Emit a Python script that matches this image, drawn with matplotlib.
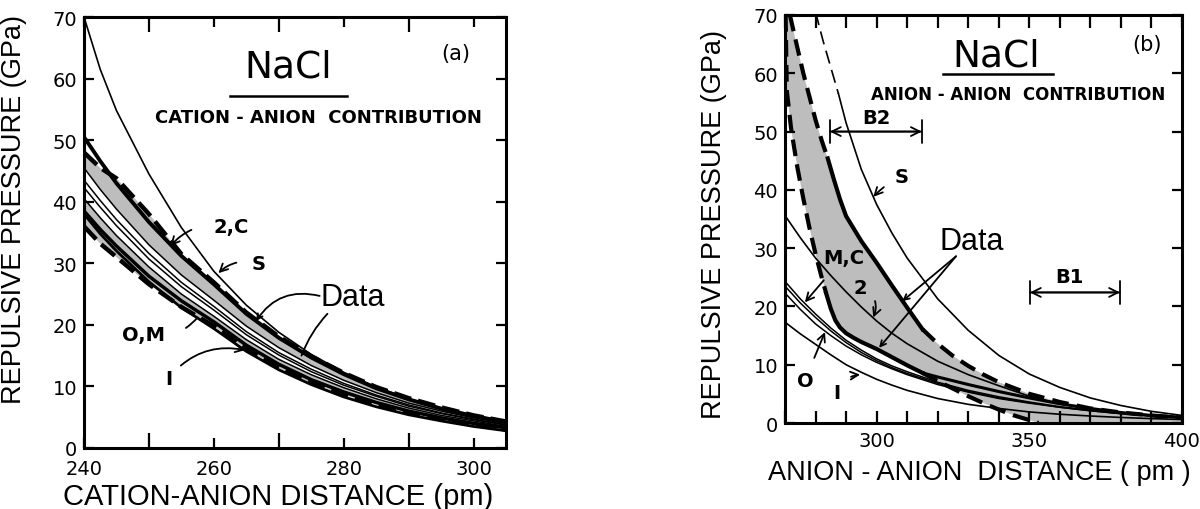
import matplotlib
matplotlib.use("Agg")
import matplotlib.pyplot as plt

# ---- panel (a): cation-anion contribution ----
xa = [240, 242.5, 245, 250, 255, 260, 265, 270, 275, 280, 285, 290, 295, 300, 305]
a_S = [70, 61.5, 54.8, 44.5, 35.8, 28.7, 23.2, 18.8, 15.2, 12.3, 9.9, 8.0, 6.5, 5.3, 4.3]
a_2C = [50.5, 46.6, 43.0, 36.7, 31.2, 26.6, 21.8, 17.9, 14.7, 12.0, 9.7, 7.9, 6.4, 5.2, 4.2]
a_data_top = [48.0, 45.5, 43.8, 38.0, 31.5, 26.9, 22.0, 18.1, 14.9, 12.2, 9.9, 8.1, 6.6, 5.3, 4.3]
a_data_top_lo = [45.5, 42.0, 38.8, 33.0, 28.1, 24.0, 19.8, 16.3, 13.4, 11.0, 9.0, 7.3, 6.0, 4.9, 4.0]
a_mid1 = [43.5, 40.2, 37.1, 31.6, 26.9, 23.0, 18.9, 15.5, 12.8, 10.5, 8.6, 7.0, 5.7, 4.7, 3.8]
a_mid2 = [42.3, 39.1, 36.1, 30.7, 26.2, 22.4, 18.4, 15.1, 12.4, 10.2, 8.4, 6.8, 5.6, 4.6, 3.7]
a_data_bot_hi = [40.5, 37.4, 34.5, 29.4, 25.0, 21.4, 17.6, 14.4, 11.9, 9.8, 8.0, 6.5, 5.3, 4.4, 3.5]
a_OM = [38.5, 35.5, 32.8, 27.9, 23.9, 20.5, 16.7, 13.6, 11.1, 9.1, 7.4, 6.0, 4.9, 4.0, 3.3]
a_data_bot = [36.0, 33.2, 31.0, 26.6, 22.9, 19.8, 16.1, 13.0, 10.6, 8.7, 7.1, 5.8, 4.7, 3.8, 3.0]
a_I = [38.0, 34.8, 32.0, 27.0, 22.8, 19.4, 15.7, 12.7, 10.3, 8.3, 6.7, 5.4, 4.4, 3.5, 2.8]

# ---- panel (b): anion-anion contribution ----
xb_S_dash = [280, 282.5, 285, 287.5]
b_S_dash = [70.5, 65.5, 61.0, 56.5]
xb_S = [287.5, 290, 295, 300, 305, 310, 320, 330, 340, 350, 360, 370, 380, 390, 400]
b_S = [56.5, 51.5, 43.5, 37.5, 32.6, 28.3, 21.3, 15.9, 11.6, 8.4, 6.1, 4.3, 3.0, 2.0, 1.3]

xb_out1 = [271.6, 274, 276, 278, 280, 282, 284]
b_out1 = [70, 64.5, 60.0, 56.0, 52.0, 48.5, 45.4]
xb_out2 = [284, 286, 288, 290, 295, 300, 305, 310, 315]
b_out2 = [45.4, 41.8, 38.4, 35.5, 31.2, 27.5, 23.6, 19.8, 16.1]
xb_out3 = [315, 320, 325, 330, 335, 340, 350, 360, 370, 380, 390, 400]
b_out3 = [16.1, 13.6, 11.5, 9.8, 8.3, 7.0, 5.0, 3.6, 2.5, 1.8, 1.3, 0.9]

xb_in1 = [270.2, 270.6, 272, 274, 276, 278, 280, 282, 283.5]
b_in1 = [70, 57.0, 50.5, 44.0, 38.5, 33.5, 29.0, 25.0, 22.2]
xb_in2 = [283.5, 285, 286.5, 288, 290, 292.5, 295, 300, 305, 310, 315]
b_in2 = [22.2, 19.6, 17.6, 16.4, 15.4, 14.6, 13.9, 12.7, 11.3, 9.9, 8.6]
xb_in3 = [315, 320, 325, 330, 335, 340, 345, 350, 353]
b_in3 = [8.6, 7.2, 5.9, 4.6, 3.4, 2.3, 1.3, 0.5, 0.0]
xb_knee = [315, 320, 330, 340, 350, 360, 370, 380, 390, 400]
b_knee = [8.6, 7.9, 6.6, 5.4, 4.3, 3.3, 2.5, 1.8, 1.3, 1.0]

xb = [270, 275, 280, 285, 290, 295, 300, 305, 310, 320, 330, 340, 350, 360, 370, 380, 390, 400]
b_2 = [35.6, 31.8, 28.3, 25.3, 22.5, 19.9, 17.5, 15.4, 13.6, 10.6, 8.3, 6.4, 4.6, 3.3, 2.4, 1.7, 1.2, 0.85]
b_MC1 = [24.3, 21.3, 18.7, 16.3, 14.2, 12.5, 11.0, 9.8, 8.8, 7.0, 5.6, 4.5, 3.6, 2.8, 2.2, 1.7, 1.3, 1.0]
b_MC2 = [23.5, 20.6, 18.1, 15.8, 13.8, 12.1, 10.7, 9.5, 8.5, 6.8, 5.4, 4.3, 3.5, 2.7, 2.1, 1.6, 1.25, 0.95]
b_O = [22.3, 19.5, 17.0, 15.0, 13.2, 11.7, 10.4, 9.3, 8.3, 6.6, 5.3, 4.2, 3.4, 2.7, 2.1, 1.6, 1.2, 0.9]
b_I = [17.3, 15.3, 13.5, 11.7, 10.0, 8.7, 7.5, 6.5, 5.6, 4.2, 3.2, 2.5, 1.9, 1.5, 1.2, 0.95, 0.75, 0.6]

SHADE = "#bdbdbd"
LAB_FONT = ["Liberation Sans", "DejaVu Sans"]

fig = plt.figure(figsize=(12, 5.1), dpi=100)
ax_a = fig.add_axes([84 / 1200, 1 - 449 / 510, 422 / 1200, 431 / 510])
ax_b = fig.add_axes([785 / 1200, 1 - 424 / 510, 397 / 1200, 408 / 510])

# --- panel a curves ---
ax_a.fill_between(xa, a_data_top, a_data_top_lo, color=SHADE, lw=0)
ax_a.fill_between(xa, a_data_bot_hi, a_data_bot, color=SHADE, lw=0)
ax_a.plot(xa, a_S, color="k", lw=1.2)
ax_a.plot(xa, a_2C, color="k", lw=2.8)
ax_a.plot(xa, a_data_top, color="k", lw=3.2, dashes=(4, 1.6))
ax_a.plot(xa, a_data_top_lo, color="k", lw=1.1)
ax_a.plot(xa, a_mid1, color="k", lw=1.1)
ax_a.plot(xa, a_mid2, color="k", lw=1.1)
ax_a.plot(xa, a_data_bot_hi, color="k", lw=1.1)
ax_a.plot(xa, a_OM, color="k", lw=2.5)
ax_a.plot(xa, a_data_bot, color="k", lw=3.2, dashes=(4, 1.6))
ax_a.plot(xa, a_I, color="k", lw=2.0)

ax_a.set_xlim(240, 305)
ax_a.set_ylim(0, 70)

# --- panel b curves ---
outer_x = xb_out1 + xb_out2[1:] + xb_out3[1:]
outer_y = b_out1 + b_out2[1:] + b_out3[1:]
inner_x = xb_in1 + xb_in2[1:] + xb_in3[1:]
inner_y = b_in1 + b_in2[1:] + b_in3[1:]
poly_x = outer_x + [400] + inner_x[::-1] + [270]
poly_y = outer_y + [0] + inner_y[::-1] + [70]
ax_b.fill(poly_x, poly_y, color=SHADE, lw=0)

ax_b.plot(xb_S_dash, b_S_dash, color="k", lw=1.2, dashes=(8, 4))
ax_b.plot(xb_S, b_S, color="k", lw=1.2)
ax_b.plot(xb_out1, b_out1, color="k", lw=3.0, dashes=(4, 2))
ax_b.plot(xb_out2, b_out2, color="k", lw=3.0)
ax_b.plot(xb_out3, b_out3, color="k", lw=3.0, dashes=(4, 2))
ax_b.plot(xb_in1, b_in1, color="k", lw=3.0, dashes=(4, 2))
ax_b.plot(xb_in2, b_in2, color="k", lw=3.0)
ax_b.plot(xb_in3, b_in3, color="k", lw=3.0, dashes=(4, 2))
ax_b.plot(xb_knee, b_knee, color="k", lw=2.2)
ax_b.plot(xb, b_2, color="k", lw=1.2)
ax_b.plot(xb, b_MC1, color="k", lw=1.1)
ax_b.plot(xb, b_MC2, color="k", lw=1.1)
ax_b.plot(xb, b_O, color="k", lw=1.1)
ax_b.plot(xb, b_I, color="k", lw=1.2)

ax_b.set_xlim(270, 400)
ax_b.set_ylim(0, 70)

# --- axes styling ---
for ax in (ax_a, ax_b):
    for sp in ax.spines.values():
        sp.set_linewidth(2.2)
    ax.set_yticks(range(0, 71, 10))
    ax.tick_params(axis="both", which="both", direction="in", top=True, right=True,
                   width=1.6, labelsize=14, pad=5)
    ax.tick_params(axis="y", which="major", length=7)
    ax.tick_params(axis="x", which="both", pad=8)
    for lab in ax.get_xticklabels() + ax.get_yticklabels():
        lab.set_fontweight("medium")

ax_a.set_xticks([240, 260, 280, 300])
ax_a.set_xticks([250, 270, 290], minor=True)
ax_a.tick_params(axis="x", which="major", length=7)
ax_a.tick_params(axis="x", which="minor", length=11)
ax_b.set_xticks([300, 350, 400])
ax_b.set_xticks(range(270, 401, 10), minor=True)
ax_b.tick_params(axis="x", which="both", length=9)
ax_b.tick_params(axis="x", which="both", pad=6)

ax_a.set_ylabel("REPULSIVE PRESSURE (GPa)", family=LAB_FONT, fontsize=19.5)
ax_a.yaxis.set_label_coords(-0.135, 0.555)
ax_a.set_xlabel("CATION-ANION DISTANCE (pm)", family=LAB_FONT, fontsize=21, va="center")
ax_a.xaxis.set_label_coords(0.46, -0.111)
ax_b.set_ylabel("REPULSIVE PRESSURE (GPa)", family=LAB_FONT, fontsize=19.5)
ax_b.yaxis.set_label_coords(-0.146, 0.49)
ax_b.set_xlabel("ANION - ANION  DISTANCE ( pm )", family=LAB_FONT, fontsize=19.5, va="center")
ax_b.xaxis.set_label_coords(0.49, -0.12)

# --- panel a text ---
ax_a.text(271.5, 62.0, "NaCl", fontsize=27, ha="center", va="center")
ax_a.plot([262.5, 280.5], [57.1, 57.1], color="k", lw=1.8)
ax_a.text(276.1, 53.7, "CATION - ANION  CONTRIBUTION", fontsize=13, fontweight="bold",
          ha="center", va="center")
ax_a.text(297.3, 64.2, "(a)", fontsize=15, ha="center", va="center")

lab = dict(fontsize=14, fontweight="bold", ha="center", va="center")
arr = dict(arrowstyle="->", color="k", lw=1.3)
ax_a.annotate("2,C", xy=(253.3, 32.8), xytext=(262.6, 35.9),
              arrowprops=dict(arr, connectionstyle="arc3,rad=0.3",
                              shrinkA=14, shrinkB=0), **lab)
ax_a.annotate("S", xy=(260.7, 28.4), xytext=(266.9, 29.9),
              arrowprops=dict(arr, connectionstyle="arc3,rad=0.3",
                              shrinkA=9, shrinkB=0), **lab)
ax_a.annotate("O,M", xy=(257.5, 21.2), xytext=(249.2, 18.4),
              arrowprops=dict(arr, arrowstyle="-", connectionstyle="arc3,rad=0.3",
                              shrinkA=14, shrinkB=0), **lab)
ax_a.annotate("I", xy=(264.8, 15.9), xytext=(253.0, 11.3),
              arrowprops=dict(arr, connectionstyle="arc3,rad=-0.3",
                              shrinkA=6, shrinkB=0), **lab)
ax_a.text(281.4, 24.5, "Data", family=LAB_FONT, fontsize=22, ha="center", va="center")
ax_a.annotate("", xy=(266.5, 20.6), xytext=(276.3, 24.7),
              arrowprops=dict(arr, connectionstyle="arc3,rad=0.35", shrinkA=0, shrinkB=0))
ax_a.annotate("", xy=(273.5, 15.0), xytext=(277.5, 21.8),
              arrowprops=dict(arr, arrowstyle="-", connectionstyle="arc3,rad=0.1",
                              shrinkA=0, shrinkB=0))

# --- panel b text ---
ax_b.text(339.3, 63.0, "NaCl", fontsize=27, ha="center", va="center")
ax_b.plot([321.7, 357.8], [59.9, 59.9], color="k", lw=1.8)
ax_b.text(346.5, 56.4, "ANION - ANION  CONTRIBUTION", fontsize=12, fontweight="bold",
          ha="center", va="center")
ax_b.text(388.4, 65.0, "(b)", fontsize=15, ha="center", va="center")

ax_b.annotate("", xy=(284.7, 50), xytext=(314.8, 50),
              arrowprops=dict(arrowstyle="|-|", color="k", lw=1.3, shrinkA=0, shrinkB=0,
                              mutation_scale=8))
ax_b.annotate("", xy=(284.7, 50), xytext=(314.8, 50),
              arrowprops=dict(arrowstyle="<->", color="k", lw=1.3, shrinkA=0, shrinkB=0,
                              mutation_scale=16))
ax_b.text(300.0, 52.4, "B2", **lab)
ax_b.annotate("", xy=(350.2, 22.4), xytext=(379.7, 22.4),
              arrowprops=dict(arrowstyle="|-|", color="k", lw=1.3, shrinkA=0, shrinkB=0,
                              mutation_scale=8))
ax_b.annotate("", xy=(350.2, 22.4), xytext=(379.7, 22.4),
              arrowprops=dict(arrowstyle="<->", color="k", lw=1.3, shrinkA=0, shrinkB=0,
                              mutation_scale=16))
ax_b.text(363.3, 25.2, "B1", **lab)

ax_b.annotate("S", xy=(298.9, 38.8), xytext=(308.2, 42.3),
              arrowprops=dict(arr, connectionstyle="arc3,rad=0.1",
                              shrinkA=7, shrinkB=0), **lab)
ax_b.text(331.0, 31.3, "Data", family=LAB_FONT, fontsize=22, ha="center", va="center")
ax_b.annotate("", xy=(308.4, 20.9), xytext=(326.0, 28.6),
              arrowprops=dict(arr, shrinkA=0, shrinkB=0))
ax_b.annotate("", xy=(300.8, 12.9), xytext=(326.0, 28.6),
              arrowprops=dict(arr, shrinkA=0, shrinkB=0))
ax_b.annotate("2", xy=(298.9, 18.1), xytext=(294.6, 23.3),
              arrowprops=dict(arr, connectionstyle="arc3,rad=-0.5",
                              shrinkA=7, shrinkB=0), **lab)
ax_b.annotate("M,C", xy=(276.5, 20.7), xytext=(289.1, 28.4),
              arrowprops=dict(arr, connectionstyle="arc3,rad=0.0",
                              shrinkA=10, shrinkB=0), **lab)
ax_b.annotate("O", xy=(283.1, 15.6), xytext=(276.5, 7.3),
              arrowprops=dict(arr, connectionstyle="arc3,rad=0.0",
                              shrinkA=8, shrinkB=0), **lab)
ax_b.annotate("I", xy=(294.6, 8.3), xytext=(286.9, 5.3),
              arrowprops=dict(arr, connectionstyle="arc3,rad=-0.3",
                              shrinkA=7, shrinkB=0), **lab)

fig.savefig("out.png", dpi=100)
